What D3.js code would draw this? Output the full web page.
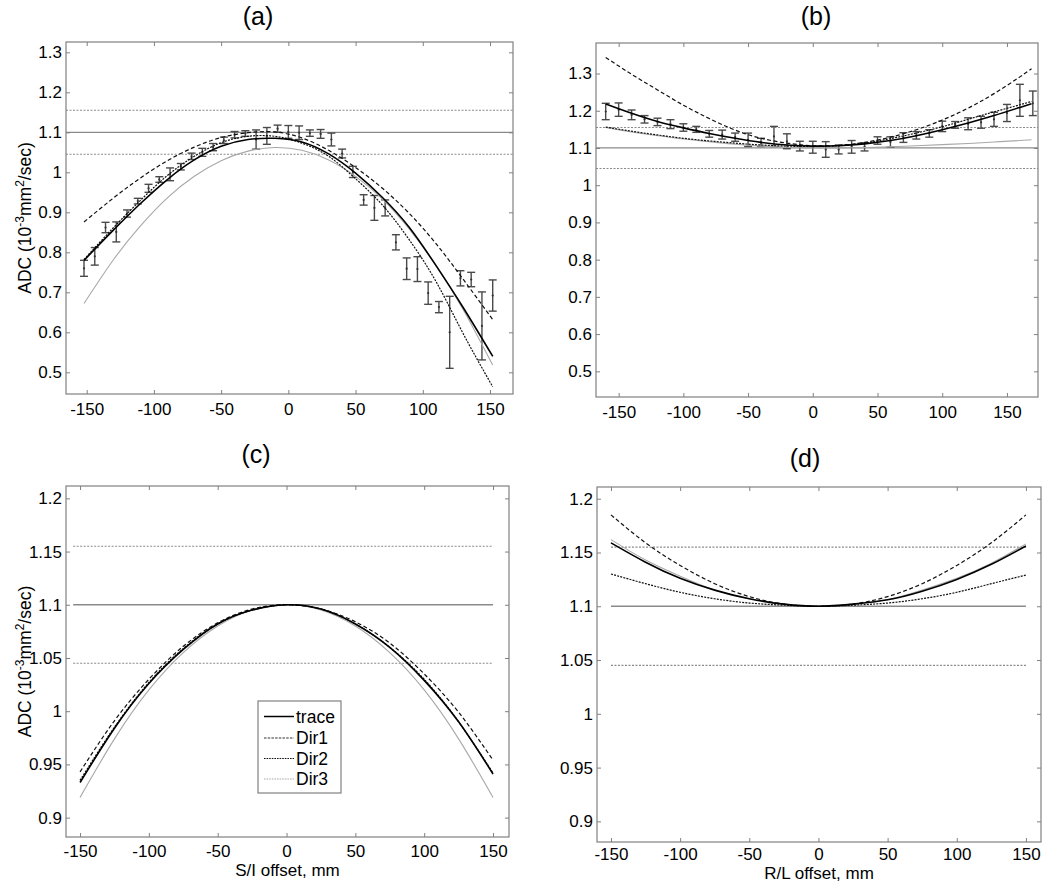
<!DOCTYPE html>
<html>
<head>
<meta charset="utf-8">
<script src="https://cdn.jsdelivr.net/npm/d3@7"></script>
<style>
html,body{margin:0;padding:0;background:#fff;}
svg text{font-family:"Liberation Sans",Arial,"DejaVu Sans",sans-serif;fill:#000;}
</style>
</head>
<body>
<svg id="chart" width="1050" height="884"></svg>
<script>
// ---------- data ----------
const seriesNames = ["trace","Dir1","Dir2","Dir3"];
const xTicks = [-150,-100,-50,0,50,100,150];
const xTickLabels = ["-150","-100","-50","0","50","100","150"];
const yTicksAB = [0.5,0.6,0.7,0.8,0.9,1.0,1.1,1.2,1.3];
const yTickLabelsAB = ["0.5","0.6","0.7","0.8","0.9","1","1.1","1.2","1.3"];
const yTicksCD = [0.9,0.95,1.0,1.05,1.1,1.15,1.2];
const yTickLabelsCD = ["0.9","0.95","1","1.05","1.1","1.15","1.2"];
const refLevels = [1.1,1.155,1.045];

// panel (a): measured points (S/I)
const aX = [-152,-144,-136,-128,-120,-112,-104,-96,-88,-80,-72,-64,-56,-48,-40,-32,-24,-16,-8,0,8,16,24,32,40,48,56,64,72,80,88,96,104,112,120,128,136,144,152];
const aMean = [0.760,0.790,0.862,0.851,0.897,0.928,0.960,0.982,0.995,1.014,1.040,1.050,1.063,1.080,1.094,1.097,1.082,1.091,1.109,1.101,1.099,1.098,1.096,1.082,1.047,1.001,0.931,0.911,0.911,0.825,0.759,0.758,0.698,0.663,0.600,0.735,0.732,0.616,0.692];
const aErr = [0.020,0.022,0.013,0.025,0.009,0.007,0.010,0.007,0.016,0.008,0.008,0.010,0.009,0.008,0.008,0.007,0.024,0.021,0.009,0.016,0.017,0.008,0.011,0.016,0.011,0.014,0.013,0.031,0.020,0.019,0.027,0.031,0.028,0.014,0.090,0.019,0.018,0.085,0.039];
// panel (a): fitted curves
const aCurveX = [-152,-130,-110,-90,-70,-50,-30,-10,10,30,50,70,90,110,130,152];
const aTrace = [0.780,0.856,0.922,0.982,1.031,1.065,1.082,1.085,1.076,1.046,0.998,0.937,0.862,0.766,0.662,0.540];
const aDir1 = [0.876,0.936,0.986,1.029,1.063,1.087,1.099,1.101,1.086,1.055,1.012,0.960,0.897,0.821,0.733,0.632];
const aDir2 = [0.782,0.862,0.930,0.992,1.040,1.074,1.090,1.090,1.073,1.040,0.984,0.918,0.831,0.726,0.597,0.464];
const aDir3 = [0.672,0.782,0.866,0.936,0.990,1.029,1.053,1.062,1.055,1.031,0.990,0.933,0.858,0.766,0.657,0.518];

// panel (b): measured points (R/L)
const bX = [-160,-150,-140,-130,-120,-110,-100,-90,-80,-70,-60,-50,-40,-30,-20,-10,0,10,20,30,40,50,60,70,80,90,100,110,120,130,140,150,160,170];
const bMean = [1.198,1.203,1.189,1.177,1.170,1.164,1.155,1.150,1.138,1.136,1.129,1.122,1.115,1.131,1.118,1.105,1.102,1.096,1.096,1.103,1.103,1.120,1.116,1.128,1.134,1.139,1.158,1.162,1.165,1.169,1.177,1.194,1.228,1.220];
const bErr = [0.022,0.018,0.013,0.010,0.010,0.012,0.010,0.008,0.009,0.012,0.011,0.018,0.011,0.027,0.020,0.013,0.016,0.021,0.012,0.017,0.011,0.010,0.014,0.013,0.010,0.010,0.014,0.009,0.016,0.016,0.019,0.023,0.043,0.033];
// panel (b): fitted curves
const bCurveX = [-160,-140,-120,-100,-80,-60,-40,-20,0,20,40,60,80,100,120,140,160,169];
const bTrace = [1.218,1.193,1.171,1.154,1.139,1.126,1.115,1.108,1.105,1.106,1.111,1.120,1.133,1.149,1.167,1.187,1.209,1.219];
const bDir1 = [1.343,1.298,1.256,1.215,1.179,1.148,1.126,1.113,1.106,1.107,1.115,1.129,1.149,1.175,1.207,1.246,1.291,1.313];
const bDir2 = [1.156,1.145,1.135,1.126,1.119,1.113,1.108,1.105,1.104,1.106,1.113,1.125,1.140,1.157,1.177,1.197,1.216,1.225];
const bDir3 = [1.155,1.143,1.133,1.124,1.117,1.110,1.105,1.102,1.100,1.100,1.101,1.103,1.106,1.109,1.112,1.116,1.120,1.122];

// panel (c): simulated S/I profiles
const cdX = [-150,-125,-100,-75,-50,-25,0,25,50,75,100,125,150];
const cTrace = [0.933,0.984,1.026,1.058,1.082,1.095,1.100,1.096,1.082,1.060,1.029,0.990,0.941];
const cDir1 = [0.943,0.991,1.030,1.061,1.083,1.096,1.100,1.096,1.084,1.064,1.035,0.999,0.954];
const cDir2 = [0.935,0.985,1.027,1.059,1.082,1.095,1.100,1.096,1.082,1.060,1.030,0.990,0.942];
const cDir3 = [0.919,0.974,1.020,1.055,1.080,1.095,1.100,1.095,1.080,1.055,1.020,0.974,0.919];

// panel (d): simulated R/L profiles
const dTrace = [1.159,1.141,1.126,1.115,1.107,1.102,1.100,1.102,1.106,1.114,1.125,1.139,1.156];
const dDir1 = [1.185,1.159,1.138,1.121,1.109,1.102,1.100,1.102,1.109,1.121,1.138,1.159,1.185];
const dDir2 = [1.130,1.121,1.113,1.107,1.103,1.101,1.100,1.101,1.103,1.107,1.113,1.121,1.129];
const dDir3 = [1.162,1.143,1.128,1.115,1.107,1.102,1.100,1.102,1.106,1.115,1.126,1.140,1.158];

// ---------- drawing ----------
const svg = d3.select("#chart");
const styles = {
  trace:{stroke:"#000", width:1.6, dash:null},
  Dir1:{stroke:"#111", width:1.2, dash:"4,2.5"},
  Dir2:{stroke:"#111", width:1.2, dash:"2,1.2"},
  Dir3:{stroke:"#a8a8a8", width:1.1, dash:null}
};
const boxColor = "#808080";

const panels = [
  {id:"a", title:"(a)", titleX:258, titleY:25, box:[66,513,42,394], xd:[-165.4,167.1], yd:[0.4458,1.3258],
   yT:yTicksAB, yL:yTickLabelsAB, curveX:aCurveX, curves:[aTrace,aDir1,aDir2,aDir3],
   pts:{x:aX,m:aMean,e:aErr}, refX:null, ylabel:true, xlabel:null, pad:9},
  {id:"b", title:"(b)", titleX:816, titleY:25, box:[596,1038,43,397], xd:[-167.5,174], yd:[0.431,1.382],
   yT:yTicksAB, yL:yTickLabelsAB, curveX:bCurveX, curves:[bTrace,bDir1,bDir2,bDir3],
   pts:{x:bX,m:bMean,e:bErr}, refX:null, ylabel:false, xlabel:null, pad:9},
  {id:"c", title:"(c)", titleX:256, titleY:463, box:[66,509,486,837], xd:[-160.2,161.6], yd:[0.8818,1.2116],
   yT:yTicksCD, yL:yTickLabelsCD, curveX:cdX, curves:[cTrace,cDir1,cDir2,cDir3],
   pts:null, refX:[-155,150], ylabel:true, xlabel:"S/I offset, mm", legend:true, pad:7.5, xlabY:876},
  {id:"d", title:"(d)", titleX:805, titleY:467, box:[597,1041,487,842], xd:[-160.1,160.9], yd:[0.8808,1.2109],
   yT:yTicksCD, yL:yTickLabelsCD, curveX:cdX, curves:[dTrace,dDir1,dDir2,dDir3],
   pts:null, refX:[-150,150], ylabel:false, xlabel:"R/L offset, mm", pad:6, xlabY:879}
];

panels.forEach(p => {
  const [L,R,T,B] = p.box;
  const x = d3.scaleLinear().domain(p.xd).range([L,R]);
  const y = d3.scaleLinear().domain(p.yd).range([B,T]);
  const g = svg.append("g").attr("class","panel-"+p.id);

  const clipId = "clip-"+p.id;
  svg.append("clipPath").attr("id",clipId).append("rect").attr("x",L).attr("y",T).attr("width",R-L).attr("height",B-T);
  const plot = g.append("g").attr("clip-path","url(#"+clipId+")");

  // reference lines
  const rx = p.refX ? p.refX : p.xd;
  refLevels.forEach((lv,i) => {
    plot.append("line")
      .attr("x1",x(rx[0])).attr("x2",x(rx[1]))
      .attr("y1",y(lv)).attr("y2",y(lv))
      .attr("stroke","#8a8a8a")
      .attr("stroke-width", i===0 ? 1.3 : 1.1)
      .attr("stroke-dasharray", i===0 ? null : "2,1.5");
  });

  // error bars
  if (p.pts) {
    const d = p.pts.x.map((xv,i)=>({x:xv,m:p.pts.m[i],e:p.pts.e[i]}));
    const eb = plot.append("g").attr("stroke","#4a4a4a").attr("stroke-width",1.4).attr("fill","none");
    d.forEach(o => {
      const cx = x(o.x), y1 = y(o.m+o.e), y2 = y(o.m-o.e);
      eb.append("line").attr("x1",cx).attr("x2",cx).attr("y1",y1).attr("y2",y2);
      eb.append("line").attr("x1",cx-4).attr("x2",cx+4).attr("y1",y1).attr("y2",y1);
      eb.append("line").attr("x1",cx-4).attr("x2",cx+4).attr("y1",y2).attr("y2",y2);
    });
    plot.append("g").selectAll("circle").data(d).join("circle")
      .attr("cx",o=>x(o.x)).attr("cy",o=>y(o.m)).attr("r",1.1).attr("fill","#333");
  }

  // curves (Dir3 first so black lines sit on top)
  const line = d3.line().x((v,i)=>x(p.curveX[i])).y(v=>y(v)).curve(d3.curveNatural);
  [3,2,1,0].forEach(k => {
    const st = styles[seriesNames[k]];
    plot.append("path").datum(p.curves[k])
      .attr("d",line).attr("fill","none")
      .attr("stroke",st.stroke).attr("stroke-width",st.width)
      .attr("stroke-dasharray",st.dash);
  });

  // axes with inward ticks on all four sides
  const axB = d3.axisBottom(x).tickValues(xTicks).tickSize(-4).tickPadding(p.pad).tickFormat((v,i)=>xTickLabels[i]);
  const axT = d3.axisTop(x).tickValues(xTicks).tickSize(-4).tickFormat("");
  const axL = d3.axisLeft(y).tickValues(p.yT).tickSize(-4).tickPadding(4).tickFormat((v,i)=>p.yL[i]);
  const axR = d3.axisRight(y).tickValues(p.yT).tickSize(-4).tickFormat("");
  const style = sel => {
    sel.select(".domain").remove();
    sel.selectAll(".tick line").attr("stroke",boxColor).attr("stroke-width",1);
    sel.selectAll(".tick text").attr("fill","#000").style("font-size","17px").style("font-family",'"Liberation Sans",Arial,sans-serif');
  };
  g.append("g").attr("transform",`translate(0,${B})`).call(axB).call(style);
  g.append("g").attr("transform",`translate(0,${T})`).call(axT).call(style);
  g.append("g").attr("transform",`translate(${L},0)`).call(axL).call(style);
  g.append("g").attr("transform",`translate(${R},0)`).call(axR).call(style);

  // box
  g.append("rect").attr("x",L).attr("y",T).attr("width",R-L).attr("height",B-T)
    .attr("fill","none").attr("stroke",boxColor).attr("stroke-width",1.2);

  // title
  g.append("text").attr("x",p.titleX).attr("y",p.titleY).attr("text-anchor","middle")
    .style("font-size","25px").text(p.title);

  // y label
  if (p.ylabel) {
    const cy = (T+B)/2;
    const t = g.append("text").attr("transform",`translate(31,${cy}) rotate(-90)`)
      .attr("text-anchor","middle").style("font-size","17.5px");
    t.append("tspan").text("ADC (10");
    t.append("tspan").attr("dy",-7).style("font-size","12px").text("-3");
    t.append("tspan").attr("dy",7).text("mm");
    t.append("tspan").attr("dy",-7).style("font-size","12px").text("2");
    t.append("tspan").attr("dy",7).text("/sec)");
  }
  // x label
  if (p.xlabel) {
    g.append("text").attr("x",(L+R)/2).attr("y",p.xlabY).attr("text-anchor","middle")
      .style("font-size","17px").text(p.xlabel);
  }

  // legend
  if (p.legend) {
    const lg = g.append("g");
    lg.append("rect").attr("x",258).attr("y",701).attr("width",83).attr("height",92)
      .attr("fill","#fff").attr("stroke",boxColor).attr("stroke-width",1.2);
    const rowsY = [716.5,738,758.5,779];
    const legStyles = [
      {stroke:"#000",width:1.5,dash:null},
      {stroke:"#333",width:1.2,dash:"2.5,1.2"},
      {stroke:"#111",width:1.2,dash:"1.6,1"},
      {stroke:"#aaa",width:1.2,dash:"1.6,1"}
    ];
    seriesNames.forEach((nm,i) => {
      lg.append("line").attr("x1",264).attr("x2",294).attr("y1",rowsY[i]).attr("y2",rowsY[i])
        .attr("stroke",legStyles[i].stroke).attr("stroke-width",legStyles[i].width)
        .attr("stroke-dasharray",legStyles[i].dash);
      lg.append("text").attr("x",296).attr("y",rowsY[i]).attr("dy","0.36em")
        .style("font-size","17.5px").text(nm);
    });
  }
});
</script>
</body>
</html>
